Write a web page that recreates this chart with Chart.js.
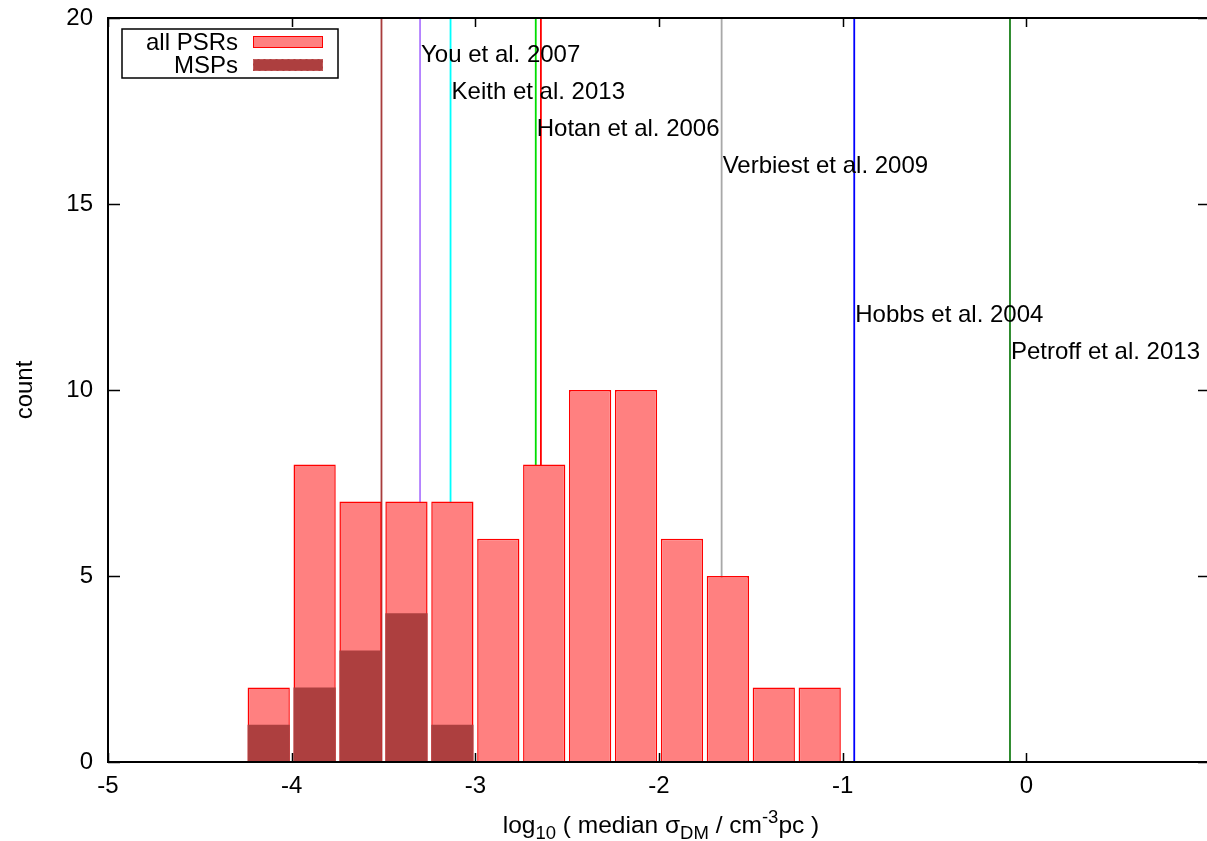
<!DOCTYPE html>
<html><head><meta charset="utf-8">
<script src="https://cdn.jsdelivr.net/npm/chart.js@4/dist/chart.umd.min.js"></script>
<style>
html,body{margin:0;padding:0;background:#fff;overflow:hidden;}
#wrap{position:relative;width:1216px;height:841px;}
</style></head>
<body><div id="wrap"><canvas id="c" width="1216" height="841"></canvas></div>
<script>
// ---- data ----
const binCenters = [-4.125,-3.875,-3.625,-3.375,-3.125,-2.875,-2.625,-2.375,-2.125,-1.875,-1.625,-1.375,-1.125];
const allPSRs = [2,8,7,7,7,6,8,10,10,6,5,2,2];
const MSPs = [1,2,3,4,1];
const refValues = [-3.511,-3.301,-3.135,-2.671,-2.643,-1.659,-0.937,-0.089];
const refLabels = ['','You et al. 2007','Keith et al. 2013','Hotan et al. 2006','','Verbiest et al. 2009','Hobbs et al. 2004','Petroff et al. 2013'];
const refLabelY = [null,19,18,17,null,16,12,11];
const xTicks = [-5,-4,-3,-2,-1,0,1];
const yTicks = [0,5,10,15,20];
const seriesNames = ['all PSRs','MSPs'];
// ---- styles ----
const refColors = ['#a83c3c','#b07cff','#00ffff','#00dd00','#ff0000','#a8a8a8','#0000ff','#1a801a'];
const FONT = '"Liberation Sans", Arial, Helvetica, sans-serif';
const PSR_FILL = '#ff8080', PSR_EDGE = '#ff0000', MSP_FILL = '#ad3f3f';

const datasets = [];
datasets.push({
  type:'bar', label: seriesNames[1], order: 1, grouped:false,
  data: MSPs.map((v,i)=>({x:binCenters[i], y:v})),
  backgroundColor: MSP_FILL, borderColor: MSP_FILL, borderWidth: 0,
  categoryPercentage: 1, barPercentage: 0.92
});
datasets.push({
  type:'bar', label: seriesNames[0], order: 2, grouped:false,
  data: allPSRs.map((v,i)=>({x:binCenters[i], y:v})),
  backgroundColor: PSR_FILL, borderColor: PSR_EDGE, borderWidth: 1.5,
  categoryPercentage: 1, barPercentage: 0.92
});
refValues.forEach((v,i)=>{
  datasets.push({
    type:'line', label: refLabels[i] || ('ref'+i), order: 3,
    data: [{x:v, y:yTicks[0]}, {x:v, y:yTicks[yTicks.length-1]}],
    borderColor: refColors[i], borderWidth: 1.8, pointRadius: 0, fill:false
  });
});

const framePlugin = {
  id:'frame',
  afterDatasetsDraw(chart){
    const {ctx, chartArea:a, scales:{x, y}} = chart;
    ctx.save();
    ctx.font = '24px ' + FONT;
    ctx.fillStyle = '#000';
    ctx.textAlign = 'left';
    ctx.textBaseline = 'middle';
    refValues.forEach((v,i)=>{
      if (!refLabels[i]) return;
      ctx.fillText(refLabels[i], x.getPixelForValue(v) + 1, y.getPixelForValue(refLabelY[i]));
    });
    ctx.strokeStyle = '#000';
    ctx.lineWidth = 1.5;
    ctx.beginPath();
    xTicks.forEach(t=>{
      const px = Math.round(x.getPixelForValue(t)) + 0.5;
      ctx.moveTo(px, a.bottom); ctx.lineTo(px, a.bottom - 9);
      ctx.moveTo(px, a.top); ctx.lineTo(px, a.top + 9);
    });
    yTicks.forEach(t=>{
      const py = Math.round(y.getPixelForValue(t)) + 0.5;
      ctx.moveTo(a.left, py); ctx.lineTo(a.left + 12, py);
      ctx.moveTo(a.right, py); ctx.lineTo(a.right - 12, py);
    });
    ctx.stroke();
    ctx.lineWidth = 2;
    ctx.strokeRect(a.left, a.top, a.right - a.left, a.bottom - a.top);
    // legend
    const L = a.left + 14, T = a.top + 11, W = 216, H = 49;
    ctx.fillStyle = '#fff';
    ctx.fillRect(L, T, W, H);
    ctx.lineWidth = 1.5;
    ctx.strokeStyle = '#000';
    ctx.strokeRect(L, T, W, H);
    const rows = [
      {name: seriesNames[0], fill: PSR_FILL, edge: PSR_EDGE, cy: T + 13},
      {name: seriesNames[1], fill: MSP_FILL, edge: '#c25a5a', cy: T + 36, dash: true}
    ];
    ctx.font = '24px ' + FONT;
    ctx.textAlign = 'right';
    ctx.textBaseline = 'middle';
    rows.forEach(r=>{
      ctx.fillStyle = '#000';
      ctx.fillText(r.name, L + 116, r.cy + 1);
      ctx.fillStyle = r.fill;
      ctx.fillRect(L + 131, r.cy - 6, 70, 12);
      ctx.strokeStyle = r.edge;
      ctx.lineWidth = 1;
      ctx.setLineDash(r.dash ? [4,2] : []);
      ctx.strokeRect(L + 131.5, r.cy - 5.5, 69, 11);
      ctx.setLineDash([]);
    });
    ctx.restore();
  },
  afterDraw(chart){
    const {ctx, chartArea:a} = chart;
    const segs = [
      {t:'log', k:'n'}, {t:'10', k:'sub'}, {t:' ( median ', k:'n'}, {t:'σ', k:'n'},
      {t:'DM', k:'sub'}, {t:' / cm', k:'n'}, {t:'-3', k:'sup'}, {t:'pc )', k:'n'}
    ];
    ctx.save();
    ctx.fillStyle = '#000';
    ctx.textBaseline = 'alphabetic';
    ctx.textAlign = 'left';
    const fontFor = k => (k === 'n' ? '24.5px ' : '18.5px ') + FONT;
    let total = 0;
    segs.forEach(s=>{ ctx.font = fontFor(s.k); s.w = ctx.measureText(s.t).width; total += s.w; });
    let cx = (a.left + a.right) / 2 - total / 2 + 2;
    const base = 833;
    segs.forEach(s=>{
      ctx.font = fontFor(s.k);
      const dy = s.k === 'sub' ? 6 : (s.k === 'sup' ? -10 : 0);
      ctx.fillText(s.t, cx, base + dy);
      cx += s.w;
    });
    ctx.restore();
  }
};

new Chart(document.getElementById('c'), {
  type: 'bar',
  data: { datasets },
  options: {
    responsive: false, animation: false, devicePixelRatio: 1,
    layout: { padding: { top: 18, right: 6, left: 0, bottom: 0 } },
    plugins: { legend: { display:false }, tooltip: { enabled:false } },
    scales: {
      x: {
        type:'linear', min: xTicks[0], max: xTicks[xTicks.length-1], offset:false,
        grid: { display:false, drawTicks:false },
        border: { display:false },
        afterBuildTicks: s => { s.ticks = xTicks.map(v=>({value:v})); },
        ticks: { color:'#000', font:{ family: FONT, size: 24 }, padding: 10, maxRotation:0,
                 callback: v => (v === xTicks[xTicks.length-1] ? '' : String(v)) },
        afterFit: s => { s.height = 79; s.paddingLeft = 0; s.paddingRight = 0; }
      },
      y: {
        min: yTicks[0], max: yTicks[yTicks.length-1],
        grid: { display:false, drawTicks:false },
        border: { display:false },
        afterBuildTicks: s => { s.ticks = yTicks.map(v=>({value:v})); },
        ticks: { color:'#000', font:{ family: FONT, size: 24 }, padding: 15 },
        title: { display:true, text:'count', color:'#000', font:{ family: FONT, size: 24 }, padding:{ top: 11, bottom: 0 } },
        afterFit: s => { s.width = 108; s.paddingTop = 0; s.paddingBottom = 0; }
      }
    }
  },
  plugins: [framePlugin]
});
</script>
</body></html>
